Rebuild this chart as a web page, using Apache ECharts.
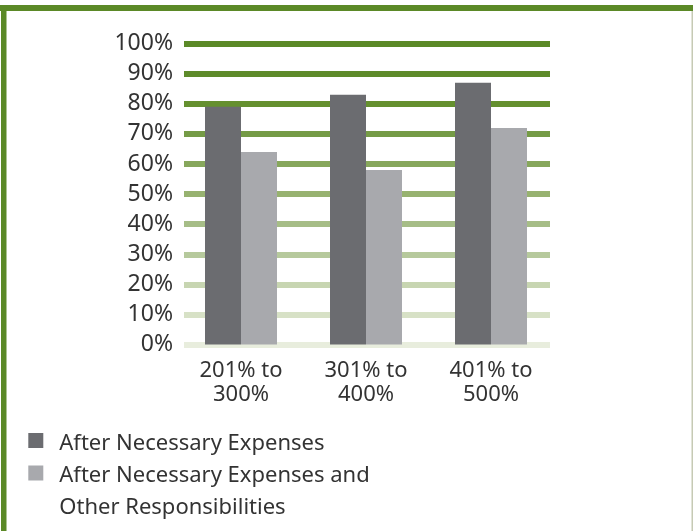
<!DOCTYPE html>
<html>
<head>
<meta charset="utf-8">
<script src="https://cdn.jsdelivr.net/npm/echarts@6/dist/echarts.min.js"></script>
<style>
html,body{margin:0;padding:0;background:#fff;}
#chart{width:693px;height:531px;}
</style>
</head>
<body>
<div id="chart"></div>
<script>
var categories = ['201% to\n300%', '301% to\n400%', '401% to\n500%'];
var seriesNames = ['After Necessary Expenses', 'After Necessary Expenses and Other Responsibilities'];
var afterNecessary = [79, 83, 87];
var afterNecessaryAndOther = [64, 58, 72];
var gridColors = ['#e8eddd', '#d7e1c6', '#c7d5b1', '#b6c99c', '#a6bd87', '#97b270', '#87a75c', '#759b46', '#65902f', '#5e8b2a', '#5b8927'];

var chart = echarts.init(document.getElementById('chart'));
var font = 'Noto Sans';
var txt = '#333333';
var legendIcon = 'path://M0,0H15V15H0Z M0,21H15V21.001H0Z';

chart.setOption({
  backgroundColor: '#ffffff',
  animation: false,
  graphic: [
    {type: 'rect', shape: {x: 0, y: 5, width: 693, height: 6}, style: {fill: '#5b8927'}, silent: true},
    {type: 'rect', shape: {x: 1, y: 5, width: 5.5, height: 526}, style: {fill: '#5b8927'}, silent: true},
    {type: 'rect', shape: {x: 691.5, y: 11, width: 1.5, height: 520}, style: {fill: '#c6cab4'}, silent: true}
  ],
  grid: [
    {left: 184, right: 143, top: 43.7, bottom: 186.5},
    {left: 178.5, width: 375, top: 43.7, bottom: 186.5}
  ],
  xAxis: [
    {type: 'category', gridIndex: 0, data: categories, show: false},
    {type: 'category', gridIndex: 1, data: categories,
     axisLine: {show: false}, axisTick: {show: false},
     axisLabel: {fontFamily: font, fontSize: 22, lineHeight: 24, color: txt, margin: 14}}
  ],
  yAxis: [
    {type: 'value', gridIndex: 0, min: 0, max: 100, interval: 10,
     axisLine: {show: false}, axisTick: {show: false},
     axisLabel: {formatter: '{value}%', fontFamily: font, fontSize: 23, color: txt, margin: 11},
     splitLine: {show: true, lineStyle: {width: 6, color: gridColors}}},
    {type: 'value', gridIndex: 1, min: 0, max: 100, interval: 10, show: false, splitLine: {show: false}}
  ],
  legend: [
    {data: [seriesNames[0]], orient: 'vertical', left: 28.3, top: 427.5, padding: 0,
     itemWidth: 15, itemHeight: 21, selectedMode: false, icon: legendIcon,
     textStyle: {fontFamily: font, fontSize: 22, color: txt, lineHeight: 32, padding: [0, 0, 0, 11], backgroundColor: 'rgba(0,0,0,0)'}},
    {data: [seriesNames[1]], orient: 'vertical', left: 28.3, top: 428, padding: 0,
     itemWidth: 15, itemHeight: 21, selectedMode: false, icon: legendIcon,
     formatter: function () { return '\nAfter Necessary Expenses and\nOther Responsibilities'; },
     textStyle: {fontFamily: font, fontSize: 22, color: txt, lineHeight: 32, padding: [0, 0, 0, 11], backgroundColor: 'rgba(0,0,0,0)'}}
  ],
  series: [
    {name: seriesNames[0], type: 'bar', xAxisIndex: 1, yAxisIndex: 1, data: afterNecessary,
     barWidth: 36, barGap: '0%', itemStyle: {color: '#6b6c70'}},
    {name: seriesNames[1], type: 'bar', xAxisIndex: 1, yAxisIndex: 1, data: afterNecessaryAndOther,
     barWidth: 36, barGap: '0%', itemStyle: {color: '#a8a9ad'}}
  ]
});
</script>
</body>
</html>
